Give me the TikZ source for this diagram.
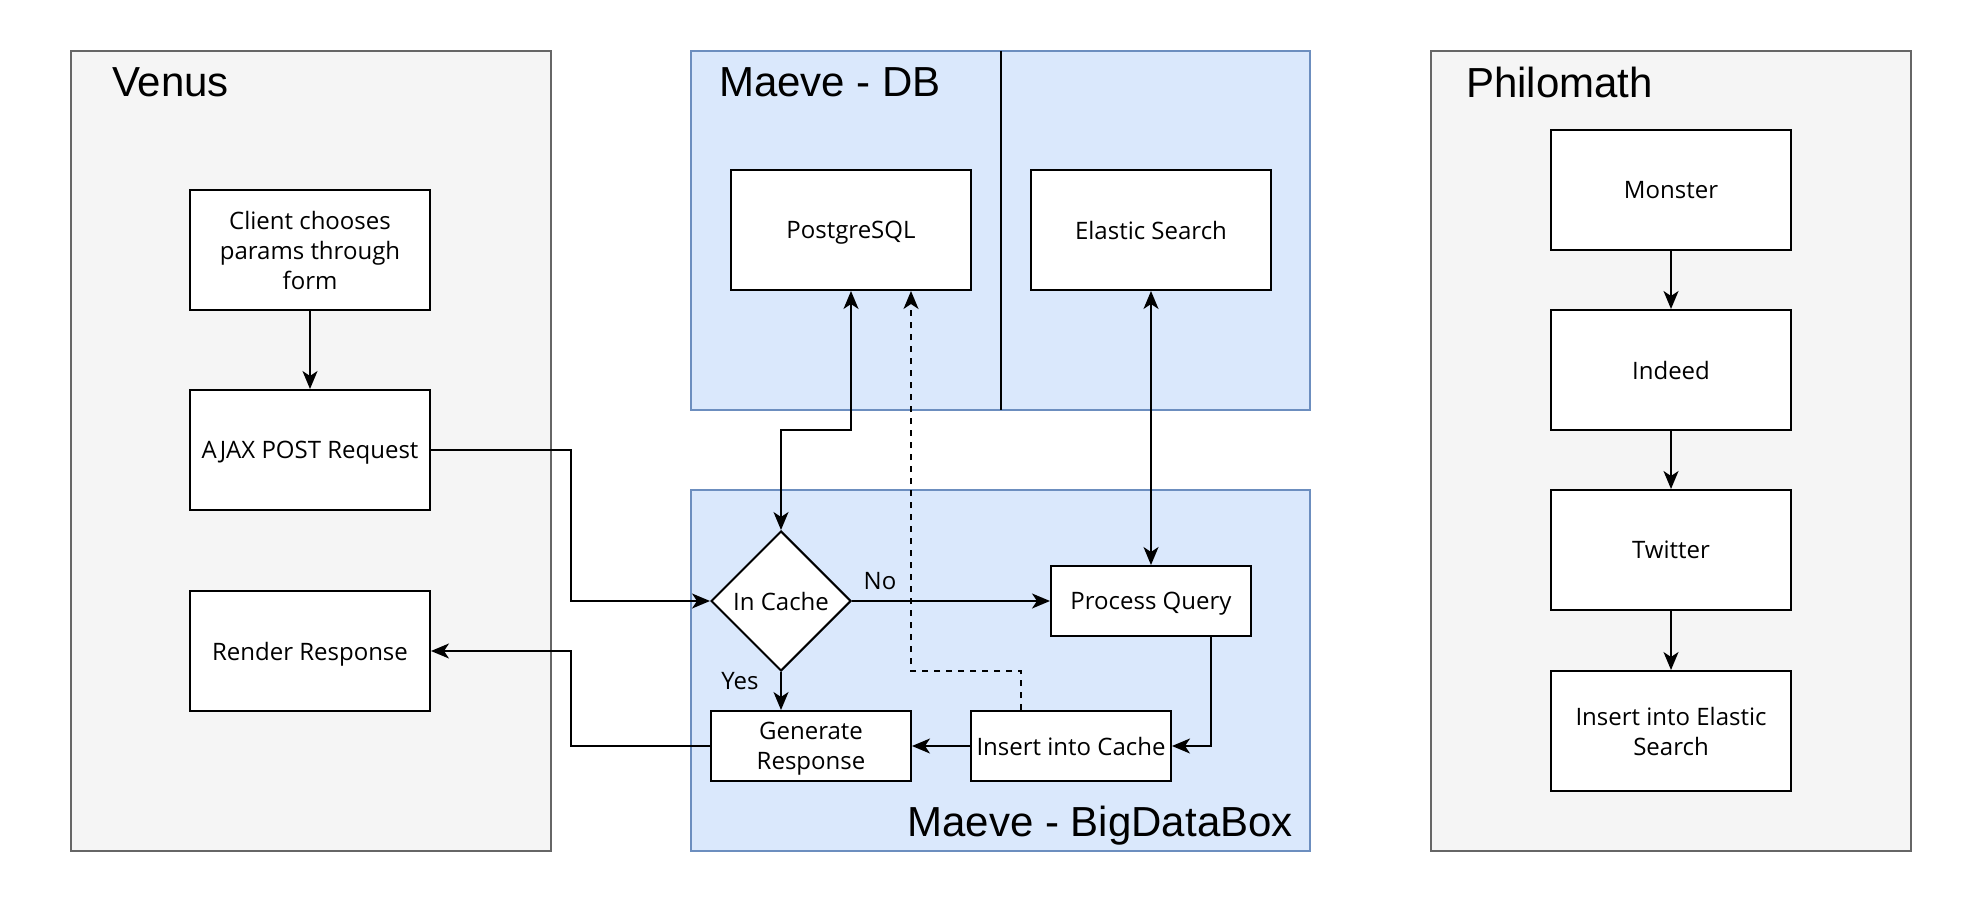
\documentclass[tikz,border=0pt]{standalone}
\usepackage{fontspec}
\setmainfont{Open Sans}
\newfontfamily\titlefont{Liberation Sans}
\usetikzlibrary{shapes.geometric,arrows.meta}
\definecolor{grayfill}{HTML}{F5F5F5}
\definecolor{grayline}{HTML}{666666}
\definecolor{bluefill}{HTML}{DAE8FC}
\definecolor{blueline}{HTML}{6C8EBF}
\begin{document}
\begin{tikzpicture}[x=1pt,y=-1pt,
  box/.style={draw=black, fill=white, line width=2pt, align=center,
    font=\fontsize{24}{30}\selectfont, inner sep=0pt, text depth=0pt,
    minimum width=#1, minimum height=120pt},
  box/.default=240pt,
  sbox/.style={box=200pt, minimum height=70pt},
  grey/.style={draw=grayline, fill=grayfill, line width=2pt, inner sep=0pt},
  blue/.style={draw=blueline, fill=bluefill, line width=2pt, inner sep=0pt},
  ttl/.style={font=\titlefont\fontsize{42}{48}\selectfont, inner sep=0pt},
  lbl/.style={font=\fontsize{24}{30}\selectfont, inner sep=0pt},
  conn/.style={line width=2pt, -{Stealth[length=18pt,width=15pt,inset=5pt]}},
  both/.style={line width=2pt, {Stealth[length=18pt,width=15pt,inset=5pt]}-{Stealth[length=18pt,width=15pt,inset=5pt]}},
  dsh/.style={line width=2pt, dash pattern=on 6pt off 6pt}
]
\useasboundingbox (0,0) rectangle (1962,904);
% containers
\node[grey, minimum width=480pt, minimum height=800pt] (venus) at (311,451) {};
\node[blue, minimum width=619pt, minimum height=359pt] (mdb) at (1000.5,230.5) {};
\node[blue, minimum width=619pt, minimum height=361pt] (mbd) at (1000.5,670.5) {};
\node[grey, minimum width=480pt, minimum height=800pt] (philo) at (1671,451) {};
\coordinate (divtop) at (1001,51);
\coordinate (divbot) at (1001,410);
\draw[line width=2pt] (divtop) -- (divbot);
% titles
\node[ttl, anchor=west] (tvenus) at (112,82) {Venus};
\node[ttl, anchor=west] (tmdb) at (719,82) {Maeve - DB};
\node[ttl, anchor=east] (tmbd) at (1293,826) {Maeve - BigDataBox};
\node[ttl, anchor=west] (tphilo) at (1466,82) {Philomath};
% Venus
\node[box] (client) at (310,250) {Client chooses\\params through\\form};
\node[box] (ajax) at (310,450) {AJAX POST Request};
\node[box] (render) at (310,651) {Render Response};
% Maeve DB
\node[box] (pg) at (851,230) {PostgreSQL};
\node[box] (es) at (1151,230) {Elastic Search};
% BigDataBox
\node[diamond, draw=black, fill=white, line width=2pt, minimum width=140pt, minimum height=140pt, inner sep=0pt, font=\fontsize{24}{30}\selectfont] (cache) at (781,601) {In Cache};
\node[sbox] (pq) at (1151,601) {Process Query};
\node[sbox] (gen) at (811,746) {Generate\\Response};
\node[sbox] (ins) at (1071,746) {Insert into Cache};
% Philomath
\node[box] (monster) at (1671,190) {Monster};
\node[box] (indeed) at (1671,370) {Indeed};
\node[box] (twitter) at (1671,550) {Twitter};
\node[box] (iels) at (1671,731) {Insert into Elastic\\Search};
% connectors
\coordinate (j1) at (571,601);
\coordinate (j2) at (571,651);
\coordinate (j3) at (781,430);
\coordinate (j4) at (1021,671);
\coordinate (j5) at (911,671);
\coordinate (j6) at (1211,746);
\draw[conn] (client) -- (ajax);
\draw[conn] (ajax.east) -| (j1) -- (cache.west);
\draw[conn] (gen.west) -| (j2) -- (render.east);
\draw[both] (pg.south) |- (j3) -- (cache.north);
\draw[dsh, -{Stealth[length=18pt,width=15pt,inset=5pt]}] (ins.north -| j4) -- (j4) -- (j5) -- (j5 |- pg.south);
\draw[both] (es.south) -- (pq.north);
\draw[conn] (cache.east) -- (pq.west);
\draw[conn] (cache.south) -- (cache.south |- gen.north);
\draw[conn] (pq.south -| j6) -- (j6) -- (ins.east);
\draw[conn] (ins.west) -- (gen.east);
\draw[conn] (monster) -- (indeed);
\draw[conn] (indeed) -- (twitter);
\draw[conn] (twitter) -- (iels);
\node[lbl] (no) at (880,581) {No};
\node[lbl] (yes) at (740,681) {Yes};
\end{tikzpicture}
\end{document}
